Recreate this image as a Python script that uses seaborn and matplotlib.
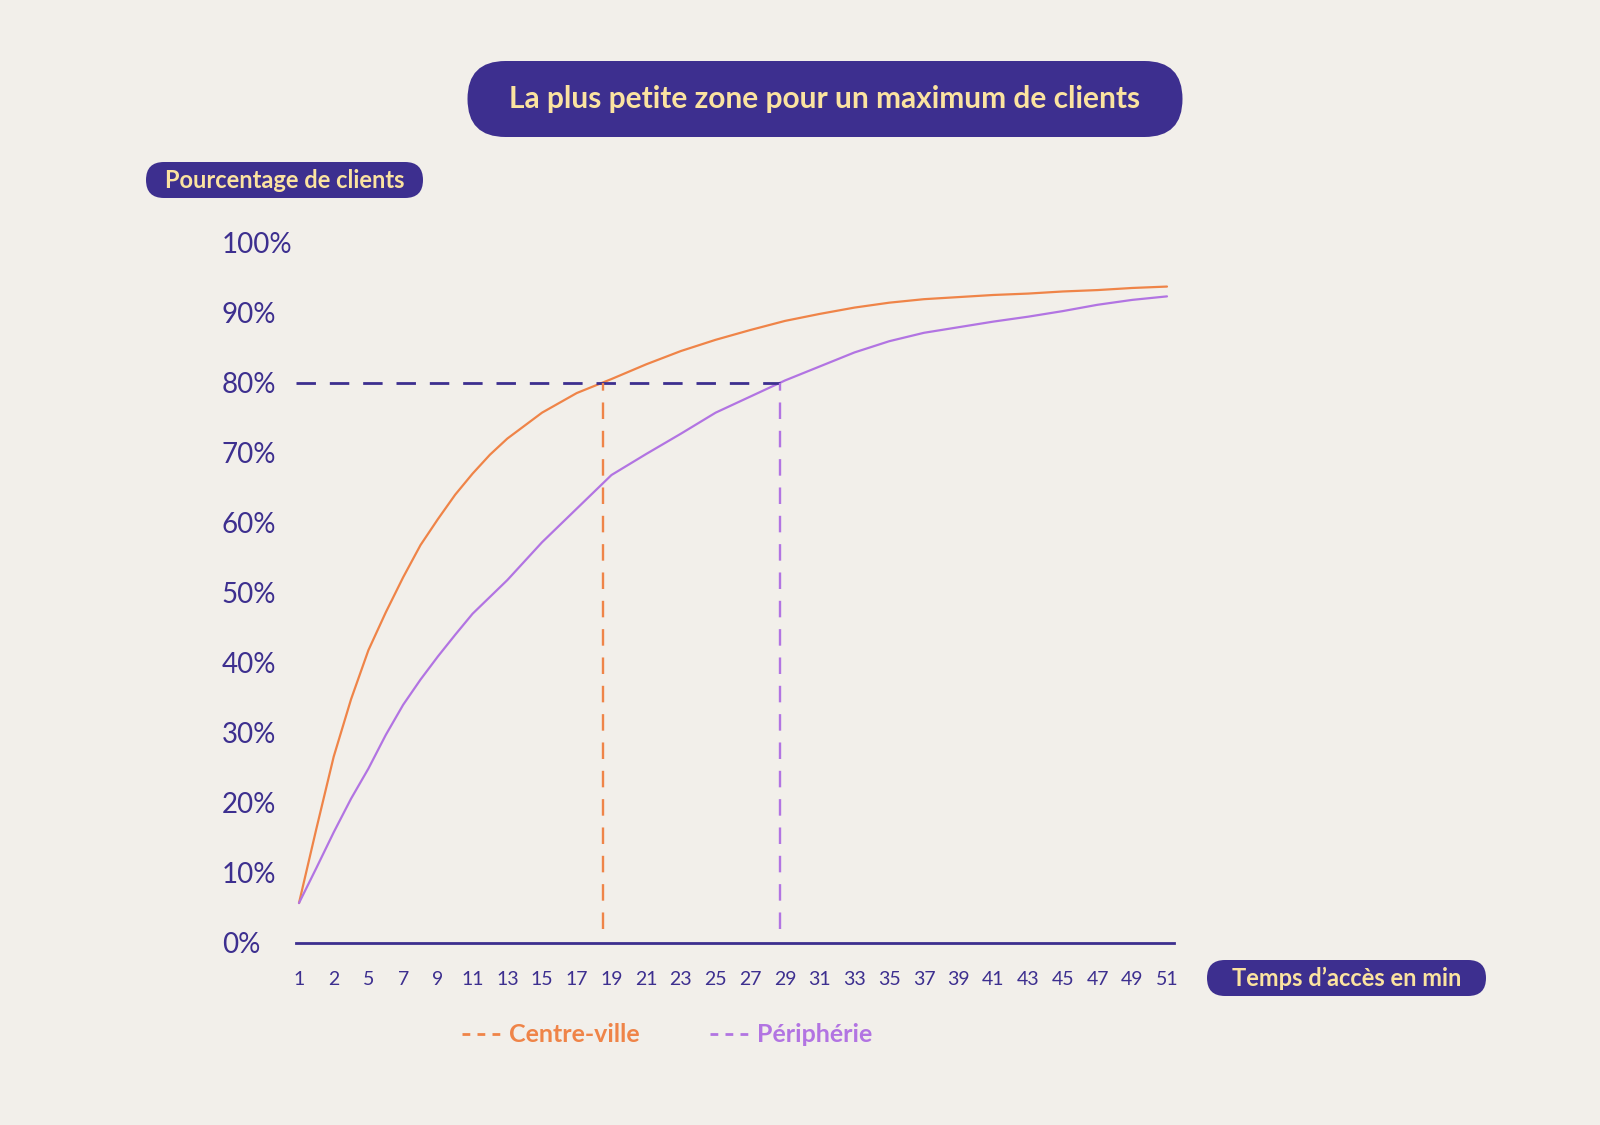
import pandas as pd
import matplotlib.pyplot as plt
import seaborn as sns
from matplotlib.lines import Line2D
from matplotlib.patches import FancyBboxPatch

# Données (temps en minutes, % de clients)
minutes = [1, 2, 3, 4, 5, 6, 7, 8, 9, 10, 11, 12, 13, 15, 17, 19, 21, 23, 25,
           27, 29, 31, 33, 35, 37, 39, 41, 43, 45, 47, 49, 51]
centre_ville = [5.7, 16.3, 26.6, 34.8, 41.8, 47.2, 52.2, 56.8, 60.5, 64.0, 67.0,
                69.7, 72.0, 75.7, 78.5, 80.5, 82.6, 84.5, 86.1, 87.5, 88.8, 89.8,
                90.7, 91.4, 91.9, 92.2, 92.5, 92.7, 93.0, 93.2, 93.5, 93.7]
peripherie = [5.7, 10.7, 15.8, 20.6, 24.9, 29.7, 34.0, 37.6, 40.9, 44.0, 47.0,
              49.4, 51.8, 57.2, 62.0, 66.8, 69.8, 72.7, 75.7, 78.0, 80.3, 82.3,
              84.3, 85.9, 87.1, 87.9, 88.7, 89.4, 90.2, 91.1, 91.8, 92.3]

tick_pos = [1, 3, 5, 7, 9, 11, 13, 15, 17, 19, 21, 23, 25, 27, 29, 31, 33, 35,
            37, 39, 41, 43, 45, 47, 49, 51]
tick_labels = ['1', '2', '5', '7', '9', '11', '13', '15', '17', '19', '21', '23',
               '25', '27', '29', '31', '33', '35', '37', '39', '41', '43', '45',
               '47', '49', '51']
y_ticks = [0, 10, 20, 30, 40, 50, 60, 70, 80, 90, 100]

seuil = 80
t_centre = 18.5
t_peri = 28.7

BG = '#F2EFEA'
INDIGO = '#3D2F8F'
JAUNE = '#FBE3A0'
ORANGE = '#EF8448'
VIOLET = '#B274E2'

df = pd.DataFrame({
    'minutes': minutes * 2,
    'pct': centre_ville + peripherie,
    'zone': ['Centre-ville'] * len(minutes) + ['Périphérie'] * len(minutes),
})

sns.set_style('white')
plt.rcParams['font.family'] = ['Lato', 'DejaVu Sans']

fig = plt.figure(figsize=(16, 11.25), dpi=100, facecolor=BG)
ax = fig.add_axes([0.1847, 0.1618, 0.549, 0.6227], facecolor=BG)

sns.lineplot(data=df, x='minutes', y='pct', hue='zone',
             palette={'Centre-ville': ORANGE, 'Périphérie': VIOLET},
             linewidth=1.6, legend=False, ax=ax)

# repères à 80 %
ax.plot([0.85, t_peri], [seuil, seuil], color=INDIGO, lw=2, dashes=(7, 5))
ax.plot([t_centre, t_centre], [2, seuil], color=ORANGE, lw=1.7, dashes=(7, 5))
ax.plot([t_peri, t_peri], [2, seuil], color=VIOLET, lw=1.7, dashes=(7, 5))

ax.set_xlim(0.8, 51.4)
ax.set_ylim(0, 100)
ax.set_xticks(tick_pos)
ax.set_xticklabels(tick_labels, fontsize=14, color=INDIGO)
ax.set_yticks(y_ticks)
ax.set_yticklabels([f'{v}%' for v in y_ticks], fontsize=20, color=INDIGO)
for lab in ax.get_yticklabels():
    lab.set_horizontalalignment('left')
ax.tick_params(axis='y', length=0, pad=53)
ax.tick_params(axis='x', length=0, pad=20)
ax.set_xlabel('')
ax.set_ylabel('')
sns.despine(ax=ax, left=True)
ax.spines['bottom'].set_color(INDIGO)
ax.spines['bottom'].set_linewidth(2)

# pastilles (coordonnées en pixels)
ov = fig.add_axes([0, 0, 1, 1], facecolor='none')
ov.set_xlim(0, 1600)
ov.set_ylim(1125, 0)
ov.axis('off')


def pastille(cx, cy, w, h, texte, taille):
    ov.add_patch(FancyBboxPatch((cx - w / 2, cy - h / 2), w, h,
                                boxstyle=f'round,pad=0,rounding_size={h / 2}',
                                fc=INDIGO, ec='none'))
    ov.text(cx, cy, texte, ha='center', va='center', color=JAUNE,
            fontsize=taille, fontweight='bold')


pastille(825, 99, 715, 76, 'La plus petite zone pour un maximum de clients', 21.5)
pastille(284.5, 180, 277, 36, 'Pourcentage de clients', 17)
pastille(1346.5, 978, 279, 36, 'Temps d’accès en min', 17)

handles = [Line2D([0], [0], color=ORANGE, lw=2, dashes=(2.8, 2.6)),
           Line2D([0], [0], color=VIOLET, lw=2, dashes=(2.8, 2.6))]
leg = fig.legend(handles, ['Centre-ville', 'Périphérie'], loc='center',
                 bbox_to_anchor=(0.417, 0.08), ncol=2, frameon=False,
                 fontsize=18, handlelength=1.55, handletextpad=0.35,
                 columnspacing=2.8)
for txt, c in zip(leg.get_texts(), [ORANGE, VIOLET]):
    txt.set_color(c)
    txt.set_fontweight('bold')

fig.savefig('out.png', dpi=100, facecolor=BG)
